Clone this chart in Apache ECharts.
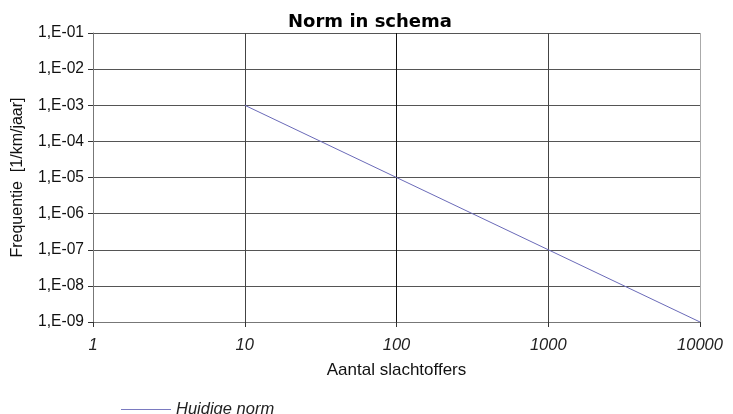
<!DOCTYPE html>
<html><head><meta charset="utf-8">
<script src="https://cdn.jsdelivr.net/npm/echarts@6/dist/echarts.min.js"></script>
<style>html,body{margin:0;padding:0;background:#fff}#c{width:733px;height:414px}</style>
</head><body><div id="c"></div>
<script>
const slachtoffers = [10, 100, 1000, 10000];
const frequentie = [1e-3, 1e-5, 1e-7, 1e-9];
const seriesName = 'Huidige norm';
const titleText = 'Norm in schema';
const xName = 'Aantal slachtoffers';
const yName = 'Frequentie  [1/km/jaar]';

const chart = echarts.init(document.getElementById('c'));
const font = 'Liberation Sans, Arial, sans-serif';
chart.setOption({
  animation: false,
  backgroundColor: '#fff',
  title: { text: titleText, left: 365, textAlign: 'center', top: 8,
    textStyle: { fontFamily: 'DejaVu Sans', fontSize: 18, fontWeight: 'bold', color: '#000' } },
  grid: { left: 93, right: 33, top: 33, bottom: 92 },
  legend: { left: 116, top: 396, icon: 'rect', itemWidth: 50, itemHeight: 1, itemGap: 10,
    textStyle: { fontFamily: font, fontSize: 16.5, fontStyle: 'italic', color: '#222' },
    data: [{ name: seriesName, itemStyle: { color: '#7a7ac0' } }] },
  xAxis: { type: 'log', logBase: 10, min: 1, max: 10000,
    name: xName, nameLocation: 'middle', nameGap: 40,
    nameTextStyle: { fontFamily: font, fontSize: 17, color: '#111' },
    axisLine: { show: true, lineStyle: { color: '#777' } },
    axisTick: { show: true, length: 5, lineStyle: { color: '#333' } },
    axisLabel: { margin: 15, fontFamily: font, fontSize: 16.5, fontStyle: 'italic', color: '#222',
      formatter: v => String(Math.round(v)) },
    splitLine: { show: true, lineStyle: { color: ['#666', '#444', '#111', '#444', '#aaa'] } } },
  yAxis: { type: 'log', logBase: 10, min: 1e-9, max: 1e-1,
    name: yName, nameLocation: 'middle', nameGap: 67,
    nameTextStyle: { fontFamily: font, fontSize: 16, color: '#111' },
    axisLine: { show: true, lineStyle: { color: '#777' } },
    axisTick: { show: true, length: 5, lineStyle: { color: '#333' } },
    axisLabel: { margin: 9, fontFamily: font, fontSize: 15.6, color: '#111',
      formatter: v => { const e = Math.round(Math.log10(v)); return '1,E-' + String(-e).padStart(2, '0'); } },
    splitLine: { show: true, lineStyle: { color: ['#555','#555','#555','#555','#555','#555','#555','#555','#aaa'] } } },
  series: [{ name: seriesName, type: 'line', symbol: 'none',
    lineStyle: { color: '#6a6ab8', width: 1 },
    data: slachtoffers.map((x, i) => [x, frequentie[i]]) }]
});
</script></body></html>
